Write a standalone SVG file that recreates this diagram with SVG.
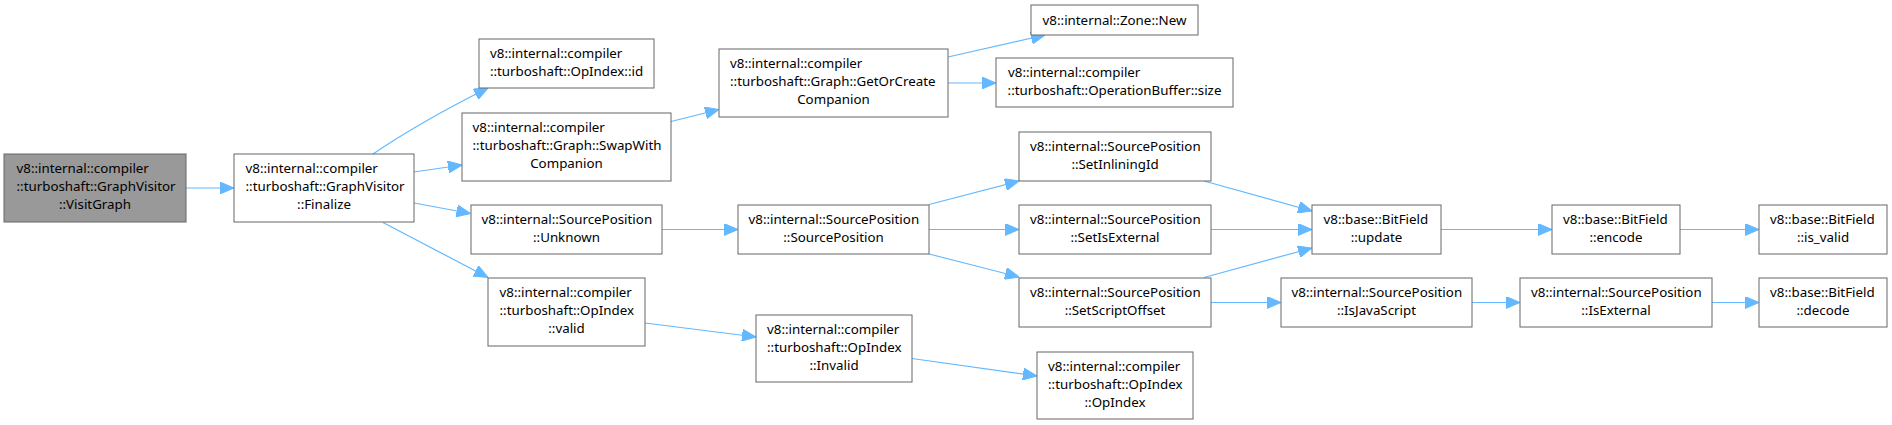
<svg xmlns="http://www.w3.org/2000/svg" width="1892" height="425" viewBox="0 0 1892 425">
<style>
.n rect{fill:#ffffff;stroke:#666666;stroke-width:1}
.n.root rect{fill:#999999}
.n text{font-family:"Noto Sans","Open Sans","DejaVu Sans",sans-serif;font-size:13.33px;fill:#000000}
.n text.c{text-anchor:middle}
.e path{fill:none;stroke:#63b8ff;stroke-width:1.2;marker-end:url(#ah)}
</style>
<defs>
<marker id="ah" viewBox="0 0 14 12" refX="14" refY="6" markerWidth="14" markerHeight="12" markerUnits="userSpaceOnUse" orient="auto">
<path d="M0,0 L14,6 L0,12 z" fill="#63b8ff" stroke="#63b8ff" stroke-width="1"/>
</marker>
</defs>
<rect width="1892" height="425" fill="#ffffff"/>
<g id="edges" class="e">
<path d="M186,188 L234,188"/>
<path d="M373,154 C398,137 440,112 488,88"/>
<path d="M414,172 L462,165"/>
<path d="M414,203 L470.5,213.5"/>
<path d="M383,222.5 C420,242 455,260 488,277.5"/>
<path d="M671,121.5 L719,109.5"/>
<path d="M948,57 L1045,35"/>
<path d="M948,83 L996,83"/>
<path d="M662,229.5 L738,229.5"/>
<path d="M929,204.5 L1019,181"/>
<path d="M929,229.5 L1019,229.5"/>
<path d="M929,254 L1019,277"/>
<path d="M645,323 L756,337"/>
<path d="M912,358.5 L1037,376"/>
<path d="M1204,181 L1312,211"/>
<path d="M1211,229.5 L1312,229.5"/>
<path d="M1204,277.5 L1312,248"/>
<path d="M1211,302.5 L1281,302.5"/>
<path d="M1441,229.5 L1552,229.5"/>
<path d="M1680,229.5 L1759,229.5"/>
<path d="M1472,302.5 L1520,302.5"/>
<path d="M1712,302.5 L1759,302.5"/>
</g>
<g id="n1" class="n root"><rect x="4" y="154" width="182" height="68"/><text x="16.5" y="173">v8::internal::compiler</text><text x="16.5" y="191">::turboshaft::GraphVisitor</text><text class="c" x="95" y="209">::VisitGraph</text></g>
<g id="n2" class="n"><rect x="234" y="154" width="180" height="68"/><text x="245.5" y="173">v8::internal::compiler</text><text x="245.5" y="191">::turboshaft::GraphVisitor</text><text class="c" x="324" y="209">::Finalize</text></g>
<g id="n3" class="n"><rect x="479" y="39" width="175" height="49"/><text x="490" y="57.5">v8::internal::compiler</text><text class="c" x="566.5" y="75.5">::turboshaft::OpIndex::id</text></g>
<g id="n4" class="n"><rect x="462" y="113" width="209" height="68"/><text x="472.5" y="132">v8::internal::compiler</text><text x="472.5" y="150">::turboshaft::Graph::SwapWith</text><text class="c" x="566.5" y="168">Companion</text></g>
<g id="n5" class="n"><rect x="471" y="205" width="191" height="49"/><text x="481.5" y="223.5">v8::internal::SourcePosition</text><text class="c" x="566.5" y="241.5">::Unknown</text></g>
<g id="n6" class="n"><rect x="488" y="278" width="157" height="68"/><text x="499.5" y="297">v8::internal::compiler</text><text x="499.5" y="315">::turboshaft::OpIndex</text><text class="c" x="566.5" y="333">::valid</text></g>
<g id="n7" class="n"><rect x="719" y="49" width="229" height="68"/><text x="730" y="68">v8::internal::compiler</text><text x="730" y="86">::turboshaft::Graph::GetOrCreate</text><text class="c" x="833.5" y="104">Companion</text></g>
<g id="n8" class="n"><rect x="738" y="205" width="191" height="49"/><text x="748.5" y="223.5">v8::internal::SourcePosition</text><text class="c" x="833.5" y="241.5">::SourcePosition</text></g>
<g id="n9" class="n"><rect x="756" y="315" width="156" height="67"/><text x="767" y="333.5">v8::internal::compiler</text><text x="767" y="351.5">::turboshaft::OpIndex</text><text class="c" x="834" y="369.5">::Invalid</text></g>
<g id="n10" class="n"><rect x="1031" y="5" width="167" height="30"/><text class="c" x="1114.5" y="24.5">v8::internal::Zone::New</text></g>
<g id="n11" class="n"><rect x="996" y="58" width="237" height="49"/><text x="1008" y="76.5">v8::internal::compiler</text><text class="c" x="1114.5" y="94.5">::turboshaft::OperationBuffer::size</text></g>
<g id="n12" class="n"><rect x="1019" y="132" width="192" height="49"/><text x="1030" y="150.5">v8::internal::SourcePosition</text><text class="c" x="1115" y="168.5">::SetInliningId</text></g>
<g id="n13" class="n"><rect x="1019" y="205" width="192" height="49"/><text x="1030" y="223.5">v8::internal::SourcePosition</text><text class="c" x="1115" y="241.5">::SetIsExternal</text></g>
<g id="n14" class="n"><rect x="1019" y="278" width="192" height="49"/><text x="1030" y="296.5">v8::internal::SourcePosition</text><text class="c" x="1115" y="314.5">::SetScriptOffset</text></g>
<g id="n15" class="n"><rect x="1037" y="352" width="156" height="67"/><text x="1048" y="370.5">v8::internal::compiler</text><text x="1048" y="388.5">::turboshaft::OpIndex</text><text class="c" x="1115" y="406.5">::OpIndex</text></g>
<g id="n16" class="n"><rect x="1312" y="205" width="129" height="49"/><text x="1323.5" y="223.5">v8::base::BitField</text><text class="c" x="1376.5" y="241.5">::update</text></g>
<g id="n17" class="n"><rect x="1281" y="278" width="191" height="49"/><text x="1291.5" y="296.5">v8::internal::SourcePosition</text><text class="c" x="1376.5" y="314.5">::IsJavaScript</text></g>
<g id="n18" class="n"><rect x="1552" y="205" width="128" height="49"/><text x="1563" y="223.5">v8::base::BitField</text><text class="c" x="1616" y="241.5">::encode</text></g>
<g id="n19" class="n"><rect x="1520" y="278" width="192" height="49"/><text x="1531" y="296.5">v8::internal::SourcePosition</text><text class="c" x="1616" y="314.5">::IsExternal</text></g>
<g id="n20" class="n"><rect x="1759" y="205" width="128" height="49"/><text x="1770" y="223.5">v8::base::BitField</text><text class="c" x="1823" y="241.5">::is_valid</text></g>
<g id="n21" class="n"><rect x="1759" y="278" width="128" height="49"/><text x="1770" y="296.5">v8::base::BitField</text><text class="c" x="1823" y="314.5">::decode</text></g>
</svg>
